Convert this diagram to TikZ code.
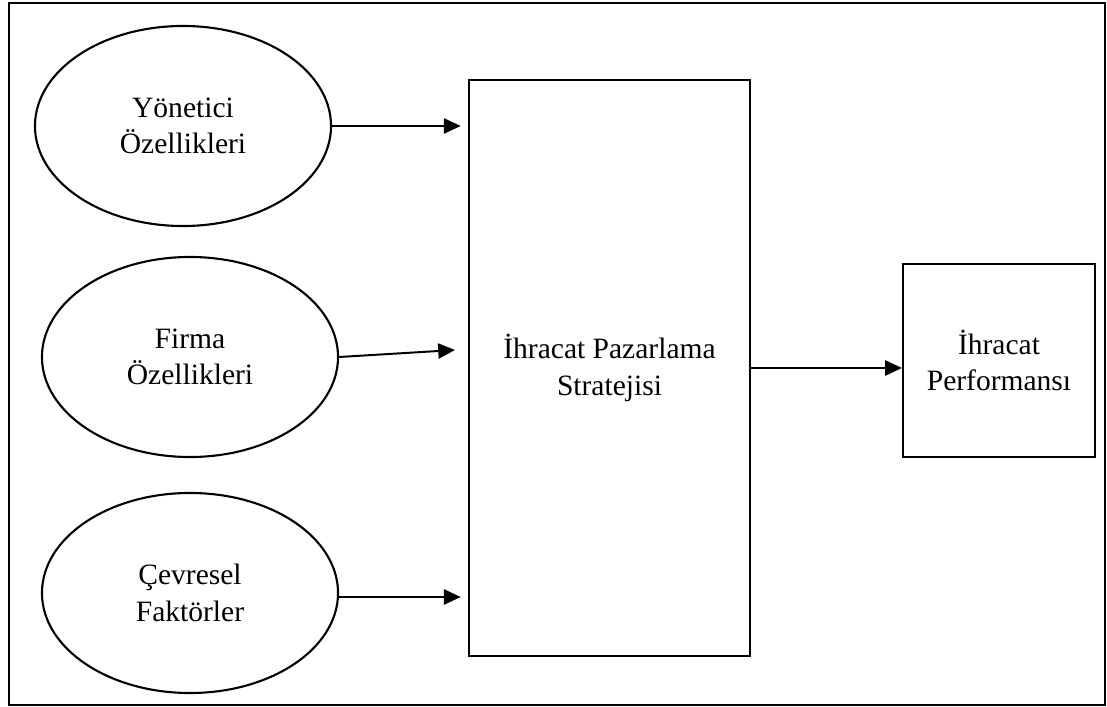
\documentclass[tikz,border=0pt]{standalone}
\usepackage{fontspec}
\setmainfont{Liberation Serif}
\usetikzlibrary{positioning,arrows.meta,shapes.geometric}

\begin{document}
\begin{tikzpicture}[x=0.025cm,y=-0.025cm,->,>={Triangle[length=0.42cm,width=0.38cm]},line width=1.4pt,
   fac/.style={ellipse,draw,line width=1.5pt,minimum width=7.4cm,minimum height=5cm,inner sep=0pt,align=center,font=\fontsize{21}{26}\selectfont},
   blk/.style={rectangle,draw,line width=1.5pt,inner sep=0pt,align=center,font=\fontsize{21}{26}\selectfont}]
\useasboundingbox (0,0) rectangle (1107,707);
\draw[-,line width=1pt] (9,3) rectangle (1105,705);
% Faktorler
\node[fac] (yon) at (183,126) {Yönetici\\Özellikleri};
\node[fac] (fir) at (190,357) {Firma\\Özellikleri};
\node[fac] (cev) at (190,593) {Çevresel\\Faktörler};
% Strateji ve performans
\node[blk,minimum width=7.025cm,minimum height=14.4cm] (str) at (609.5,368) {İhracat Pazarlama\\Stratejisi};
\node[blk,minimum width=4.8cm,minimum height=4.825cm] (prf) at (999,360.5) {İhracat\\Performansı};
\coordinate (in2) at (455,350);
\draw[shorten >=0.18cm] (yon.east) -- (yon.east -| str.west);
\draw (fir.east) -- (in2);
\draw[shorten >=0.18cm] ([yshift=-0.1cm]cev.east) -- ([yshift=-0.1cm]cev.east -| str.west);
\draw (str.east) -- (str.east -| prf.west);
\end{tikzpicture}
\end{document}
